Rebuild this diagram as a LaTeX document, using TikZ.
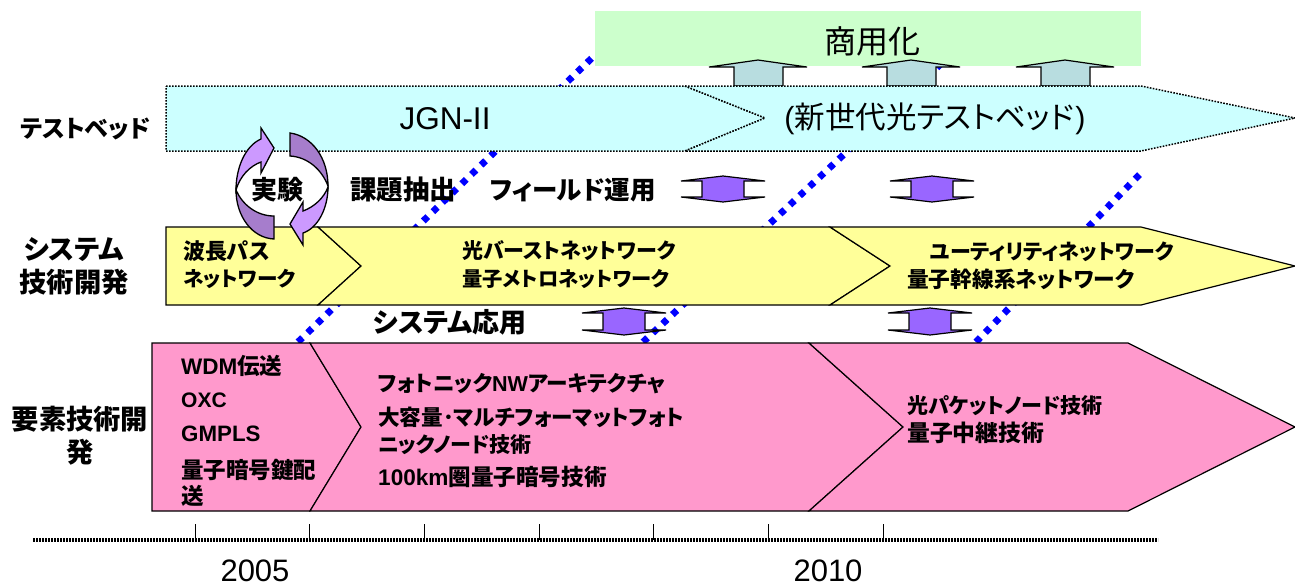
\documentclass[tikz,border=0pt]{standalone}
\usepackage{fontspec}
\setmainfont{Liberation Sans}
\newfontfamily\cjk[RawFeature=+palt]{Noto Sans CJK JP}
\newcommand{\ja}[1]{{\cjk #1}}
\definecolor{commercial}{RGB}{204,255,204}
\definecolor{testbed}{RGB}{204,255,255}
\definecolor{system}{RGB}{255,255,153}
\definecolor{element}{RGB}{255,153,204}
\definecolor{uparrow}{RGB}{184,221,224}
\definecolor{linkarrow}{RGB}{153,102,255}
\definecolor{cyclelight}{RGB}{204,153,255}
\definecolor{cycledark}{RGB}{166,125,204}
\tikzset{
  plain label/.style={anchor=center,inner sep=0pt,font=\fontsize{#1}{#1}\selectfont},
  plain label/.default=31,
  bold label/.style={anchor=west,inner sep=0pt,font=\fontsize{#1}{#1}\selectfont\bfseries},
  bold label/.default=21,
  side label/.style={anchor=center,inner sep=0pt,align=center,font=\fontsize{27.3}{33}\selectfont\bfseries},
  band/.style={draw=black,line width=1.2pt,line join=miter},
  testband/.style={fill=testbed,draw=black,line width=1.5pt,dash pattern=on 1.6pt off 1.4pt},
  schedule/.style={draw=blue,line width=6.8pt,dash pattern=on 6.2pt off 7.2pt},
  cyclearrow/.style={draw=black,line width=1.3pt,line join=miter}
}
\newcommand{\uparrowshape}[1]{
\filldraw[fill=uparrow,draw=black,line width=1.2pt] (#1-49,67)--(#1,60)--(#1+49,67)--(#1+25,67)--(#1+25,86)--(#1-24,86)--(#1-24,67)--cycle;
}
\newcommand{\linkarrowshape}[3]{
\filldraw[fill=linkarrow,draw=black,line width=1.2pt] (#1-42,#2+5)--(#1,#2)--(#1+42,#2+5)--(#1+21,#2+5)--(#1+21,#3-5)--(#1+42,#3-5)--(#1,#3)--(#1-42,#3-5)--(#1-21,#3-5)--(#1-21,#2+5)--cycle;
}
\begin{document}
\begin{tikzpicture}[x=1pt,y=-1pt]
\useasboundingbox (0,0) rectangle (1295,587);
% schedule lines behind the bands
\draw[schedule] (298,342)--(595,55);
\draw[schedule] (643,342)--(945,60);
\draw[schedule] (976,342)--(1141,173);
\fill[commercial] (595,11) rectangle (1141,66);
\node[plain label=32] (commercial) at (872,41) {\ja{商用化}};
\uparrowshape{758}\uparrowshape{911}\uparrowshape{1065}
% test bed band
\filldraw[testband] (166,86)--(685,86)--(765,118)--(685,151)--(166,151)--cycle;
\filldraw[testband] (685,86)--(1141,86)--(1295,118)--(1141,151)--(685,151)--(765,118)--cycle;
\node[plain label=31.5] (jgn) at (445,119) {JGN-II};
\node[plain label=30.5] (nextbed) at (935,119) {(\ja{新世代光テストベッド}\kern1pt)};
% system band
\filldraw[fill=system,band] (166,227)--(318,227)--(361,266)--(318,305)--(166,305)--cycle;
\filldraw[fill=system,band] (318,227)--(830,227)--(890,266)--(830,305)--(318,305)--(361,266)--cycle;
\filldraw[fill=system,band] (830,227)--(1141,227)--(1295,266)--(1141,305)--(830,305)--(890,266)--cycle;
% element band
\filldraw[fill=element,band] (152,343)--(310,343)--(361,427)--(310,511)--(152,511)--cycle;
\filldraw[fill=element,band] (310,343)--(809,343)--(903,427)--(809,511)--(310,511)--(361,427)--cycle;
\filldraw[fill=element,band] (809,343)--(1128,343)--(1295,427)--(1128,511)--(809,511)--(903,427)--cycle;
\linkarrowshape{723}{176}{202}\linkarrowshape{932}{176}{202}
\linkarrowshape{624}{308}{335}\linkarrowshape{930}{308}{335}
% experiment cycle
\filldraw[fill=cyclelight,cyclearrow] (274,148)--(261,128)--(261,139) .. controls (245,146) and (236,168) .. (236,190) .. controls (240,176) and (250,166) .. (261,162)--(261,173)--cycle;
\filldraw[fill=cycledark,cyclearrow] (290,133) .. controls (312,136) and (328,158) .. (328,186) .. controls (322,170) and (308,157) .. (290,156)--cycle;
\filldraw[fill=cyclelight,cyclearrow] (290,224)--(303,245)--(303,233) .. controls (318,228) and (328,208) .. (328,187) .. controls (324,198) and (314,207) .. (303,211)--(303,202)--cycle;
\filldraw[fill=cycledark,cyclearrow] (274,239) .. controls (252,238) and (236,216) .. (236,190) .. controls (242,204) and (256,216) .. (274,216)--cycle;
\node[anchor=center,inner sep=0pt,font=\fontsize{26}{26}\selectfont\bfseries] (experiment) at (277,190) {\ja{実験}};
% row titles
\node[bold label=24] (testbedtitle) at (20,129) {\ja{テストベッド}};
\node[side label] (systemtitle) at (74,266) {\ja{システム}\\\ja{技術開発}};
\node[side label] (elementtitle) at (80,436) {\ja{要素技術開}\\\ja{発}};
\node[bold label=26.5] (extract) at (350,190) {\ja{課題抽出}};
\node[bold label=25.5] (field) at (490,190) {\ja{フィールド運用}};
\node[bold label=27] (sysapp) at (373,322) {\ja{システム応用}};
% system band texts
\node[bold label=22] (wavepath) at (183,251) {\ja{波長パス}};
\node[bold label=20.6] (wavenet) at (183,279) {\ja{ネットワーク}};
\node[bold label] (burst) at (462,251) {\ja{光バーストネットワーク}};
\node[bold label=20.3] (metro) at (462,279) {\ja{量子メトロネットワーク}};
\node[bold label] (utility) at (930,252) {\ja{ユーティリティネットワーク}};
\node[bold label=21.7] (trunk) at (907,279) {\ja{量子幹線系ネットワーク}};
% element band texts
\node[bold label=22.5] (wdm) at (181,366) {WDM\ja{伝送}};
\node[bold label] (oxc) at (181,400) {OXC};
\node[bold label=22.3] (gmpls) at (181,434) {GMPLS};
\node[bold label=22.5] (keya) at (181,470) {\ja{量子暗号鍵配}};
\node[bold label=22.5] (keyb) at (181,496) {\ja{送}};
\node[bold label=21.6] (photonic) at (378,384) {\ja{フォトニック}NW\ja{アーキテクチャ}};
\node[bold label=21.6] (nodea) at (378,417) {\ja{大容量･マルチフォーマットフォト}};
\node[bold label] (nodeb) at (378,445) {\ja{ニックノード技術}};
\node[bold label=22.6] (crypto) at (378,477) {100km\ja{圏量子暗号技術}};
\node[bold label] (packet) at (907,406) {\ja{光パケットノード技術}};
\node[bold label=22.8] (relay) at (907,433) {\ja{量子中継技術}};
% time axis
\coordinate (axisleft) at (33,540);
\coordinate (axisright) at (1158,540);
\draw[line width=3.5pt,dash pattern=on 1.7pt off 1.3pt] (axisleft)--(axisright);
\foreach \x in {195,309,424,539,653,768,883}{
  \draw[line width=.8pt] (\x,524)--(\x,540);
}
\node[plain label=31] (year2005) at (255,571) {2005};
\node[plain label=31] (year2010) at (828,571) {2010};
\end{tikzpicture}
\end{document}
